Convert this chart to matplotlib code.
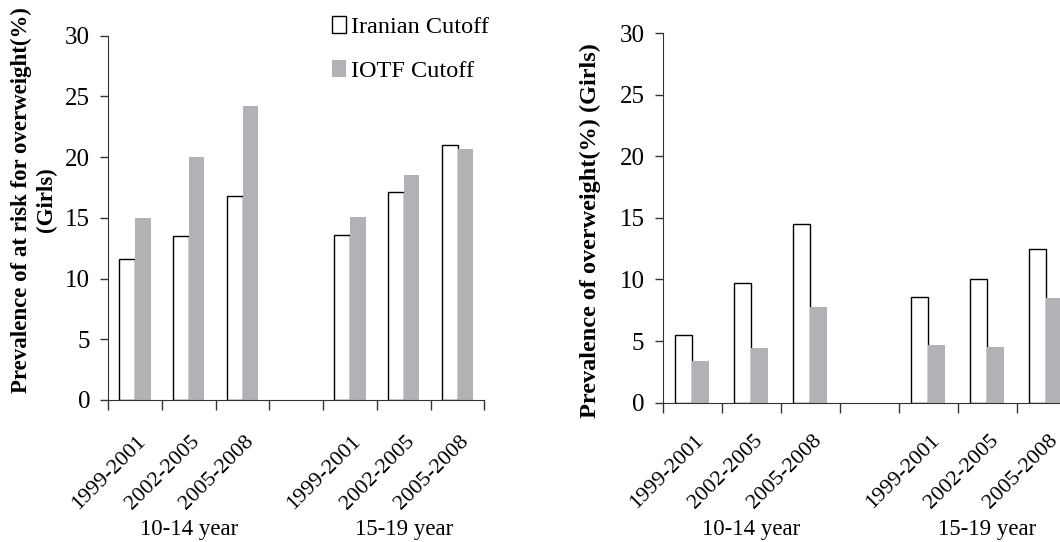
import numpy as np
import matplotlib
matplotlib.use('Agg')
import matplotlib.pyplot as plt
from matplotlib.patches import Patch
from matplotlib.transforms import ScaledTranslation

plt.rcParams['font.family'] = ['Liberation Serif', 'DejaVu Serif']

periods = ['1999-2001', '2002-2005', '2005-2008']
groups = ['10-14 year', '15-19 year']

# at risk for overweight (left panel)
risk_iranian = [11.6, 13.5, 16.8, 13.6, 17.1, 21.0]
risk_iotf = [15.0, 20.0, 24.2, 15.1, 18.5, 20.7]

# overweight (right panel)
ow_iranian = [5.5, 9.7, 14.5, 8.6, 10.0, 12.5]
ow_iotf = [3.4, 4.4, 7.8, 4.7, 4.5, 8.5]

gray = '#b2b2b6'

# categories with an empty slot between the two age groups
xpos = np.array([0, 1, 2, 4, 5, 6])
labels = periods + periods


def draw(fig, ax, iran, iotf, ylabel, ylsize, ylpad, yly, lab_pad, lab_dx, grp_dy):
    w = 0.29
    ax.bar(xpos - w / 2, iran, w, color='white', edgecolor='black', linewidth=1.0)
    ax.bar(xpos + w / 2, iotf, w, color=gray, edgecolor='none')
    ax.set_xlim(-0.5, 6.5)
    ax.set_ylim(0, 30)
    ax.set_yticks(range(0, 31, 5))
    ax.spines['top'].set_visible(False)
    ax.spines['right'].set_visible(False)
    ax.spines['left'].set_color('#333333')
    ax.spines['bottom'].set_color('#333333')
    ax.tick_params(axis='y', labelsize=18, length=6, width=1, color='#333333', pad=7)
    ax.set_xticks(np.arange(-0.5, 7, 1), minor=True)
    ax.set_xticks(xpos)
    ax.set_xticklabels(labels, rotation=45, ha='right', va='center',
                       rotation_mode='anchor', fontsize=16)
    ax.tick_params(axis='x', which='major', length=0, pad=lab_pad)
    ax.tick_params(axis='x', which='minor', length=7, width=1, color='#333333')
    shift = ScaledTranslation(lab_dx / 100, 0, fig.dpi_scale_trans)
    for lab in ax.get_xticklabels():
        lab.set_transform(lab.get_transform() + shift)
    ax.set_ylabel(ylabel, fontsize=ylsize, fontweight='bold', labelpad=ylpad)
    ax.yaxis.label.set_y(yly)
    for gx, g in zip([1, 5], groups):
        ax.annotate(g, xy=(gx, 0), xycoords=('data', 'axes fraction'),
                    xytext=(0, grp_dy * 0.72), textcoords='offset points',
                    ha='center', va='center', fontsize=16.5)


fig = plt.figure(figsize=(10.6, 5.42), dpi=100)
ax1 = fig.add_axes([0.102, 0.262, 0.355, 0.672])
ax2 = fig.add_axes([0.625, 0.257, 0.390, 0.682])

draw(fig, ax1, risk_iranian, risk_iotf,
     'Prevalence of at risk for overweight(%)\n(Girls)', 16.5, 6, 0.55,
     28, 8, -130)
draw(fig, ax2, ow_iranian, ow_iotf, 'Prevalence of overweight(%) (Girls)',
     17.5, 13, 0.465, 25.5, 9, -127)

handles = [Patch(facecolor='white', edgecolor='black', linewidth=1.0),
           Patch(facecolor=gray, edgecolor='none')]
ax1.legend(handles, ['Iranian Cutoff', 'IOTF Cutoff'], loc='upper left',
           bbox_to_anchor=(0.568, 1.082), frameon=False, fontsize=17.5,
           handlelength=0.6, handleheight=0.7, handletextpad=0.2,
           labelspacing=0.93, borderaxespad=0)

fig.savefig('out.png', dpi=100)
